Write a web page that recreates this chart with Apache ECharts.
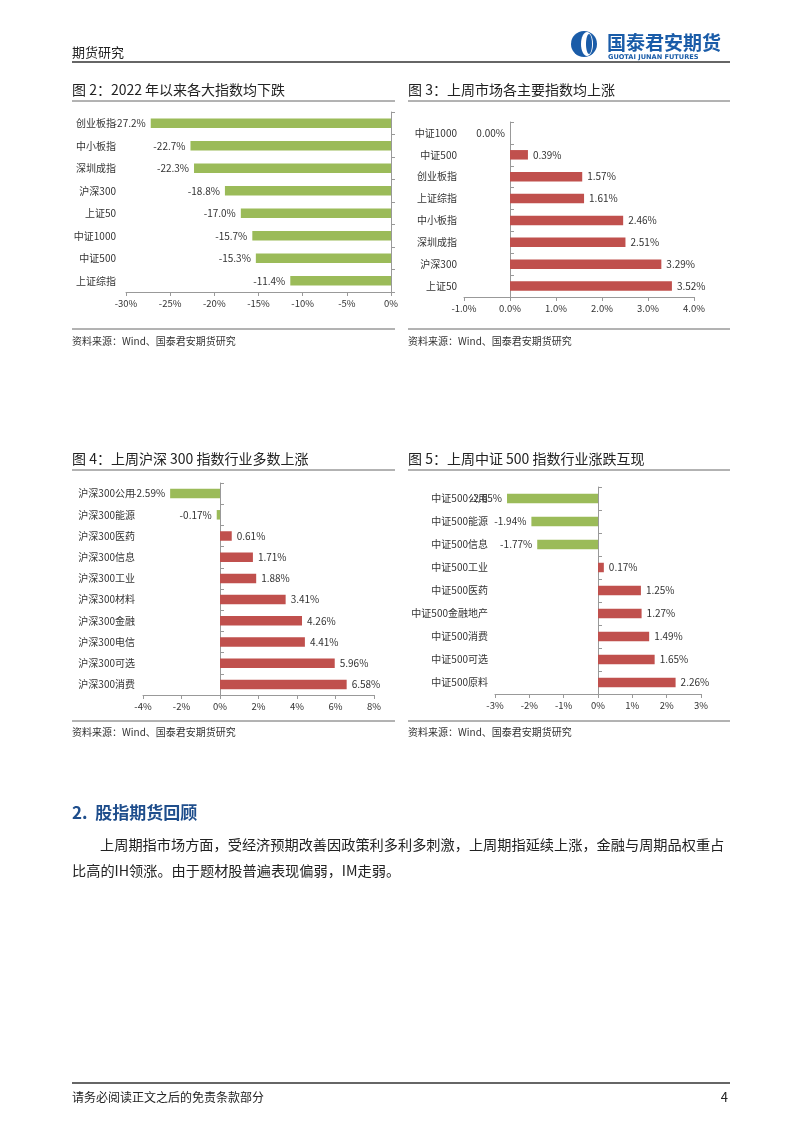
<!DOCTYPE html>
<html>
<head>
<meta charset="utf-8">
<script src="https://cdn.jsdelivr.net/npm/echarts@6/dist/echarts.min.js"></script>
<style>
html,body{margin:0;padding:0;background:#fff;}
#main{width:802px;height:1134px;}
</style>
</head>
<body>
<div id="main"></div>
<script>
// ---- data ----
const cat2 = ['创业板指','中小板指','深圳成指','沪深300','上证50','中证1000','中证500','上证综指'];
const val2 = [-27.2,-22.7,-22.3,-18.8,-17.0,-15.7,-15.3,-11.4];
const axis2 = {min:-30, max:0, interval:5};

const cat3 = ['中证1000','中证500','创业板指','上证综指','中小板指','深圳成指','沪深300','上证50'];
const val3 = [0.00,0.39,1.57,1.61,2.46,2.51,3.29,3.52];
const axis3 = {min:-1, max:4, interval:1};

const cat4 = ['沪深300公用','沪深300能源','沪深300医药','沪深300信息','沪深300工业','沪深300材料','沪深300金融','沪深300电信','沪深300可选','沪深300消费'];
const val4 = [-2.59,-0.17,0.61,1.71,1.88,3.41,4.26,4.41,5.96,6.58];
const axis4 = {min:-4, max:8, interval:2};

const cat5 = ['中证500公用','中证500能源','中证500信息','中证500工业','中证500医药','中证500金融地产','中证500消费','中证500可选','中证500原料'];
const val5 = [-2.65,-1.94,-1.77,0.17,1.25,1.27,1.49,1.65,2.26];
const axis5 = {min:-3, max:3, interval:1};

const titles = ['图 2：2022 年以来各大指数均下跌','图 3：上周市场各主要指数均上涨','图 4：上周沪深 300 指数行业多数上涨','图 5：上周中证 500 指数行业涨跌互现'];
const sourceText = '资料来源：Wind、国泰君安期货研究';
const headingText = '2.  股指期货回顾';
const paraLines = ['上周期指市场方面，受经济预期改善因政策利多利多刺激，上周期指延续上涨，金融与周期品权重占','比高的IH领涨。由于题材股普遍表现偏弱，IM走弱。'];

// ---- styles ----
const GREEN = '#9bbb59', RED = '#c0504d';
const FONT = '"Noto Sans CJK SC", "Noto Sans", sans-serif';
const AXC = '#999';

const grids = [
  {left:126, top:112, width:265, height:180},
  {left:464, top:122, width:230, height:175},
  {left:143, top:483, width:231, height:212},
  {left:495, top:487, width:206, height:207}
];
const cats = [cat2,cat3,cat4,cat5];
const vals = [val2,val3,val4,val5];
const axes = [axis2,axis3,axis4,axis5];
const axisDec = [0,1,0,0];
const lblDec = [1,2,2,2];
const lblMargin = [10,7,8,7];

const xAxis = [], yAxis = [], series = [];
for (let i=0;i<4;i++){
  xAxis.push({
    type:'value', gridIndex:i, min:axes[i].min, max:axes[i].max, interval:axes[i].interval,
    axisLine:{show:true, lineStyle:{color:AXC,width:1}},
    axisTick:{show:true, length:4, lineStyle:{color:AXC}},
    splitLine:{show:false},
    axisLabel:{fontFamily:FONT, fontSize:9.5, color:'#333', margin:7,
      formatter:(v)=>v.toFixed(axisDec[i])+'%'}
  });
  // label axis (left edge, no line)
  yAxis.push({
    type:'category', gridIndex:i, data:cats[i], inverse:true,
    axisLine:{show:false, onZero:false}, axisTick:{show:false},
    axisLabel:{fontFamily:FONT, fontSize:10, color:'#333', margin:lblMargin[i]}
  });
  // zero line axis
  yAxis.push({
    type:'category', gridIndex:i, data:cats[i], inverse:true,
    axisLine:{show:true, onZero:true, lineStyle:{color:AXC,width:1}},
    axisTick:{show:true, length:4, lineStyle:{color:AXC}},
    axisLabel:{show:false}
  });
  series.push({
    type:'bar', xAxisIndex:i, yAxisIndex:2*i, barWidth:9.5,
    data: vals[i].map(v=>({
      value:v,
      itemStyle:{color: v<0?GREEN:RED},
      label:{position: v<=0?'left':'right'}
    })),
    label:{show:true, fontFamily:FONT, fontSize:10, color:'#333', distance:5,
      formatter:(p)=>p.value.toFixed(lblDec[i])+'%'},
    animation:false
  });
}

function txt(x,y,text,font,fill,align){
  return {type:'text', x:x, y:y, silent:true,
    style:{text:text, font:font, fill:fill||'#222', align:align||'left', verticalAlign:'middle'}};
}
function line(x1,y1,x2,y2,color,w){
  return {type:'line', silent:true, shape:{x1:x1,y1:y1,x2:x2,y2:y2}, style:{stroke:color, lineWidth:w}};
}

const graphic = [
  // header
  txt(72,52,'期货研究','13px '+FONT,'#222'),
  line(72,62,730,62,'#333',1.5),
  {type:'circle', silent:true, shape:{cx:584,cy:44,r:13}, style:{fill:'#1a5ca8'}},
  {type:'ellipse', silent:true, shape:{cx:587,cy:44,rx:6,ry:12}, style:{fill:'#fff'}},
  {type:'ellipse', silent:true, shape:{cx:589,cy:44,rx:3,ry:10}, style:{fill:'#1a5ca8'}},
  txt(607,43,'国泰君安期货','bold 19px '+FONT,'#1a5ca8'),
  txt(608,57,'GUOTAI JUNAN FUTURES','bold 6.6px "DejaVu Sans", sans-serif','#1a5ca8'),
  // chart titles
  txt(72,90,titles[0],'14px '+FONT,'#222'),
  line(72,101,395,101,'#666',1),
  txt(408,90,titles[1],'14px '+FONT,'#222'),
  line(408,101,730,101,'#666',1),
  txt(72,459,titles[2],'14px '+FONT,'#222'),
  line(72,470,395,470,'#666',1),
  txt(408,459,titles[3],'14px '+FONT,'#222'),
  line(408,470,730,470,'#666',1),
  // sources
  line(72,329,395,329,'#666',1),
  txt(72,341,sourceText,'10px '+FONT,'#333'),
  line(408,329,730,329,'#666',1),
  txt(408,341,sourceText,'10px '+FONT,'#333'),
  line(72,721,395,721,'#666',1),
  txt(72,732,sourceText,'10px '+FONT,'#333'),
  line(408,721,730,721,'#666',1),
  txt(408,732,sourceText,'10px '+FONT,'#333'),
  // section
  txt(72,813,headingText,'bold 17px '+FONT,'#1f4e8c'),
  txt(100,845,paraLines[0],'14.2px '+FONT,'#222'),
  txt(72,871,paraLines[1],'14.2px '+FONT,'#222'),
  // footer
  line(72,1083,730,1083,'#333',1.5),
  txt(72,1097,'请务必阅读正文之后的免责条款部分','12px '+FONT,'#222'),
  txt(728,1097,'4','13px '+FONT,'#222','right')
];

const chart = echarts.init(document.getElementById('main'), null, {renderer:'canvas'});
chart.setOption({
  backgroundColor:'#fff',
  animation:false,
  grid: grids.map(g=>Object.assign({containLabel:false}, g)),
  xAxis: xAxis,
  yAxis: yAxis,
  series: series,
  graphic: graphic
});
</script>
</body>
</html>
